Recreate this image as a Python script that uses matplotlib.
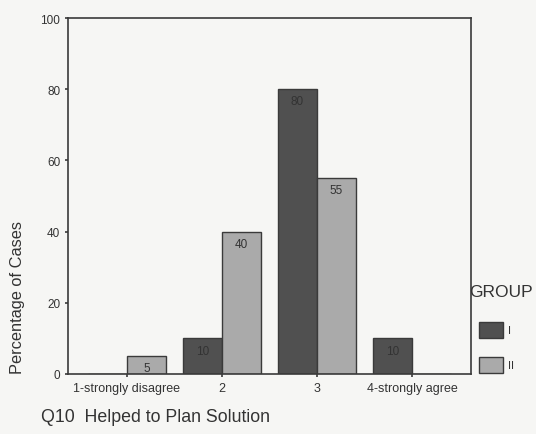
import matplotlib
matplotlib.use("Agg")
import matplotlib.pyplot as plt
import numpy as np
from matplotlib.patches import Rectangle

plt.rcParams['font.family'] = ['Liberation Sans', 'DejaVu Sans']

categories = ["1-strongly disagree", "2", "3", "4-strongly agree"]
group_names = ["I", "II"]
group_i = [0, 10, 80, 10]
group_ii = [5, 40, 55, 0]
y_ticks = [0, 20, 40, 60, 80, 100]

dark = "#505050"
light = "#aaaaaa"
edge = "#3a3a3a"
bg = "#f6f6f4"
ink = "#333333"

fig = plt.figure(figsize=(5.36, 4.35), dpi=100, facecolor=bg)
ax = fig.add_axes([68 / 536, 60 / 435, 403 / 536, 356 / 435], facecolor=bg)

x = np.arange(len(categories))
w = 0.41
bars_i = ax.bar(x - w / 2, group_i, w, color=dark, edgecolor=edge, linewidth=1.0)
bars_ii = ax.bar(x + w / 2, group_ii, w, color=light, edgecolor=edge, linewidth=1.0)

for bars, vals in ((bars_i, group_i), (bars_ii, group_ii)):
    for b, v in zip(bars, vals):
        if v > 0:
            ax.text(b.get_x() + b.get_width() / 2, v - 3.4, f"{v}",
                    ha="center", va="center", fontsize=8.5, color=ink)

ax.set_xlim(-0.62, 3.62)
ax.set_ylim(0, 100)
ax.set_yticks(y_ticks)
ax.set_xticks(x)
ax.set_xticklabels(categories)
ax.tick_params(axis="both", length=2.5, width=1.2, color=edge, labelsize=9,
               labelcolor=ink, pad=3)
ax.tick_params(axis="y", labelsize=8.5)
for s in ax.spines.values():
    s.set_color(edge)
    s.set_linewidth(1.2)

fig.text(18 / 536, 1 - 298 / 435, "Percentage of Cases", rotation=90,
         ha="center", va="center", fontsize=11.8, color=ink)
fig.text(41 / 536, 1 - 418 / 435, "Q10  Helped to Plan Solution",
         ha="left", va="center", fontsize=12.8, color=ink)

# legend drawn by hand to the right of the frame
fig.text(469 / 536, 1 - 293 / 435, "GROUP", ha="left", va="center",
         fontsize=12.5, color=ink)
for i, (name, col) in enumerate(zip(group_names, (dark, light))):
    y0 = 323 + i * 35
    fig.patches.append(Rectangle((479 / 536, 1 - (y0 + 16) / 435), 24 / 536, 16 / 435,
                                 transform=fig.transFigure, facecolor=col,
                                 edgecolor=edge, linewidth=1.0))
    fig.text(508 / 536, 1 - (y0 + 8) / 435, name, ha="left", va="center",
             fontsize=8, color=ink)

fig.savefig("out.png", dpi=100, facecolor=bg)
